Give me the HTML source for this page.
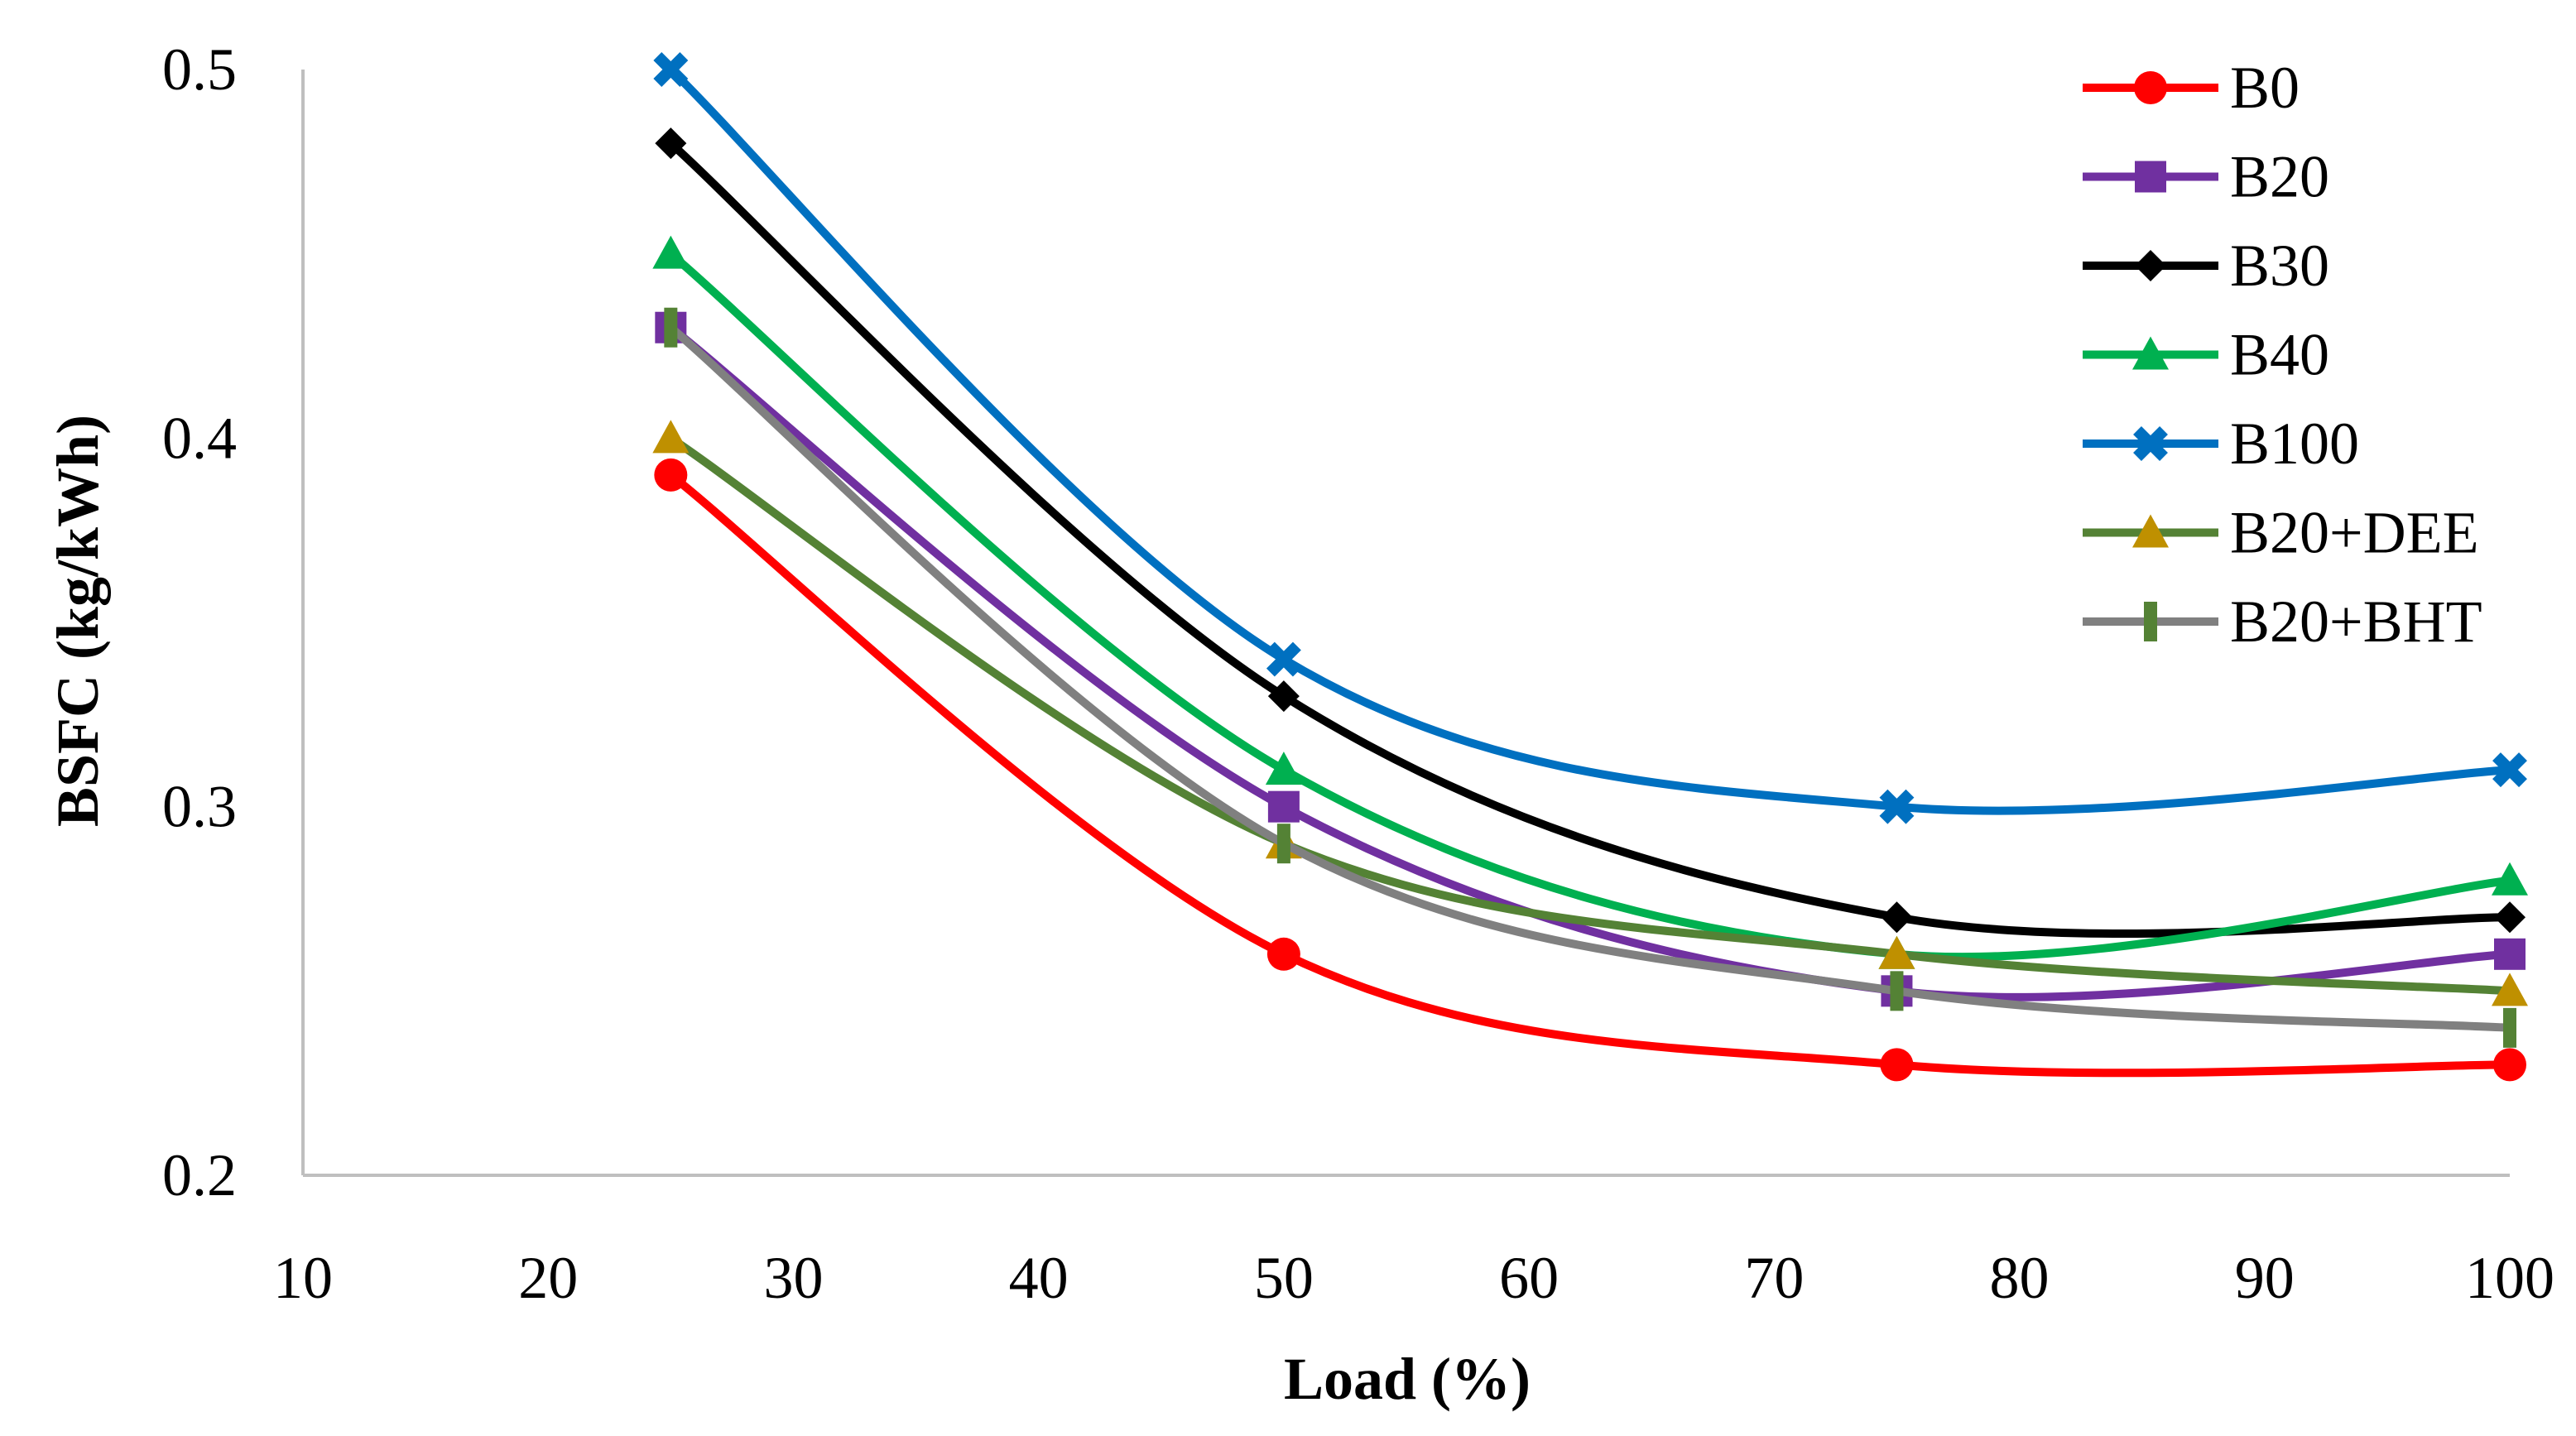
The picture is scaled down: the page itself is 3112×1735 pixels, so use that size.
<!DOCTYPE html>
<html><head><meta charset="utf-8"><style>
html,body{margin:0;padding:0;background:#fff;}
svg{display:block;font-family:"Liberation Serif",serif;}
</style></head><body>
<svg id="chart" width="3112" height="1735" viewBox="0 0 3112 1735" xmlns="http://www.w3.org/2000/svg">
<g id="axes"></g>
<g id="series"></g>
<g id="legend"></g>
<text x="1700" y="1690" text-anchor="middle" font-size="72" font-weight="bold">Load (%)</text>
<text transform="translate(118,750) rotate(-90)" text-anchor="middle" font-size="72" font-weight="bold">BSFC (kg/kWh)</text>
</svg>
<script>
const loads = [25, 50, 75, 100];
const xTicks = [10,20,30,40,50,60,70,80,90,100];
const yTicks = [0.2,0.3,0.4,0.5];
const seriesNames = ["B0","B20","B30","B40","B100","B20+DEE","B20+BHT"];
const b0 = [0.39,0.26,0.23,0.23];
const b20 = [0.43,0.30,0.25,0.26];
const b30 = [0.48,0.33,0.27,0.27];
const b40 = [0.45,0.31,0.26,0.28];
const b100 = [0.50,0.34,0.30,0.31];
const b20dee = [0.40,0.29,0.26,0.25];
const b20bht = [0.43,0.29,0.25,0.24];
const values = [b0,b20,b30,b40,b100,b20dee,b20bht];
const styles = [
 {line:"#FF0000",fill:"#FF0000",m:"circle"},
 {line:"#7030A0",fill:"#7030A0",m:"square"},
 {line:"#000000",fill:"#000000",m:"diamond"},
 {line:"#00B050",fill:"#00B050",m:"triangle"},
 {line:"#0070C0",fill:"#0070C0",m:"x"},
 {line:"#548235",fill:"#BF9000",m:"triangle"},
 {line:"#808080",fill:"#548235",m:"bar"}
];
const NS="http://www.w3.org/2000/svg";
const X0=366,X1=3032,Y0=1420,Y1=84;
function xs(v){return X0+(v-10)/(100-10)*(X1-X0);}
function ys(v){return Y0-(v-0.2)/(0.5-0.2)*(Y0-Y1);}
function mk(tag,attrs,parent){const e=document.createElementNS(NS,tag);for(const k in attrs)e.setAttribute(k,attrs[k]);parent.appendChild(e);return e;}
const axes=document.getElementById('axes');
let a=mk('line',{x1:X0,y1:Y1,x2:X0,y2:Y0,stroke:"#BFBFBF","stroke-width":4},axes);


a=mk('line',{x1:X0,y1:Y0,x2:X1,y2:Y0,stroke:"#BFBFBF","stroke-width":4},axes);


xTicks.forEach(t=>{const e=mk('text',{x:xs(t),y:1568,"text-anchor":"middle","font-size":72},axes);e.textContent=t;

});
yTicks.forEach(t=>{const e=mk('text',{x:286,y:ys(t)+24,"text-anchor":"end","font-size":72},axes);e.textContent=t.toFixed(1);

});
function smooth(pts){let d=`M${pts[0][0]},${pts[0][1]}`;for(let i=0;i<pts.length-1;i++){const p0=pts[i-1]||pts[i],p1=pts[i],p2=pts[i+1],p3=pts[i+2]||p2;
const c1=[p1[0]+(p2[0]-p0[0])/6,p1[1]+(p2[1]-p0[1])/6],c2=[p2[0]-(p3[0]-p1[0])/6,p2[1]-(p3[1]-p1[1])/6];
d+=` C${c1[0]},${c1[1]} ${c2[0]},${c2[1]} ${p2[0]},${p2[1]}`;}return d;}
function marker(g,type,x,y,st){
 let e;
 if(type==="circle")e=mk('circle',{cx:x,cy:y,r:20,fill:st.fill},g);
 else if(type==="square")e=mk('rect',{x:x-19,y:y-19,width:38,height:38,fill:st.fill},g);
 else if(type==="diamond")e=mk('polygon',{points:`${x},${y-19} ${x+19},${y} ${x},${y+19} ${x-19},${y}`,fill:st.fill},g);
 else if(type==="triangle")e=mk('polygon',{points:`${x},${y-22} ${x+22},${y+18} ${x-22},${y+18}`,fill:st.fill},g);
 else if(type==="x"){e=mk('path',{d:`M${x-16},${y-16}L${x+16},${y+16}M${x+16},${y-16}L${x-16},${y+16}`,stroke:st.fill,"stroke-width":14},g);}
 else {e=mk('rect',{x:x-8,y:y-24,width:16,height:48,fill:st.fill},g);}
 
 
}
const sg=document.getElementById('series');
values.forEach((vals,i)=>{const st=styles[i];const g=mk('g',{},sg);
 
 
 const pts=vals.map((v,j)=>[xs(loads[j]),ys(v)]);
 const p=mk('path',{d:smooth(pts),fill:"none",stroke:st.line,"stroke-width":10,"stroke-linejoin":"round"},g);
 
 
 pts.forEach(q=>marker(g,st.m,q[0],q[1],st));
});
const lg=document.getElementById('legend');
seriesNames.forEach((n,i)=>{const y=106+i*107.5;const g=mk('g',{},lg);
 
 
 mk('line',{x1:2516,y1:y,x2:2680,y2:y,stroke:styles[i].line,"stroke-width":10},g);
 marker(g,styles[i].m,2598,y,styles[i]);
 const t=mk('text',{x:2694,y:y+24,"font-size":72},g);t.textContent=n;
 
 
});
</script>
</body></html>
